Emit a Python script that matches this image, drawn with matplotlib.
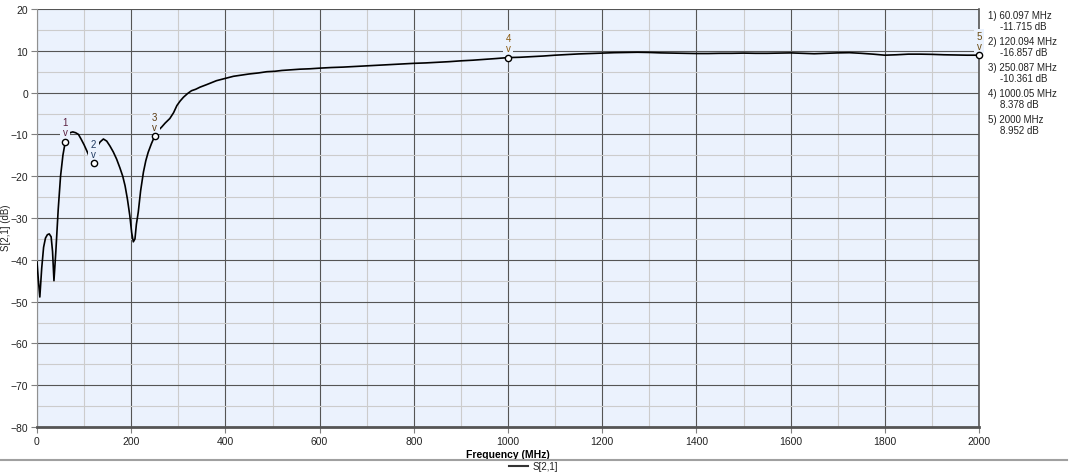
import numpy as np
import matplotlib
matplotlib.use("Agg")
import matplotlib.pyplot as plt
from matplotlib.lines import Line2D

plt.rcParams["font.family"] = ["Liberation Sans", "DejaVu Sans"]

# S21 trace (MHz, dB)
freq_mhz = [0, 3, 6, 10, 14, 18, 22, 26, 30, 33, 36, 40, 45, 50, 55, 60.097,
            65, 70, 76, 82, 88, 94, 100, 106, 112, 120.094, 126, 130, 134, 141,
            148, 155, 162, 169, 176, 182, 187, 192, 197, 201, 204.5, 208, 211,
            215, 220, 226, 231, 236, 243, 250.087, 258, 265, 272, 282, 290, 297,
            304, 311, 320, 328, 337, 346, 360, 381, 400, 417, 435, 450, 470, 488,
            505, 520, 540, 558, 580, 600, 625, 650, 675, 700, 725, 750, 775, 800,
            825, 850, 875, 900, 925, 950, 975, 1000.05, 1025, 1050, 1075, 1100,
            1125, 1150, 1175, 1200, 1225, 1250, 1275, 1300, 1325, 1350, 1375,
            1400, 1425, 1450, 1475, 1500, 1525, 1550, 1575, 1600, 1625, 1650,
            1675, 1700, 1725, 1750, 1775, 1800, 1825, 1850, 1875, 1900, 1925,
            1950, 1975, 2000]
s21_db = [-40.5, -45, -48.9, -42, -37, -34.8, -34.0, -33.8, -34.5, -38, -45,
          -38, -28, -20, -15, -11.715,
          -10.5, -9.6, -9.4, -9.6, -10.0, -11.2, -12.5, -14.0, -15.5, -16.857,
          -14.5, -12.5, -11.8, -11.1,
          -11.6, -12.8, -14.2, -15.9, -18, -20, -22.3, -25.5, -29.4, -33.5,
          -35.7, -35.0, -31.5,
          -28.6, -23.5, -19, -16.3, -14.3, -12.2, -10.361, -9.0, -8.2, -7.3,
          -6.2, -4.8, -3.1,
          -2.0, -1.1, -0.2, 0.45, 0.8, 1.3, 1.9, 2.85, 3.4, 3.9, 4.2, 4.45,
          4.7, 5.0,
          5.1, 5.3, 5.45, 5.6, 5.7, 5.85, 6.0, 6.1, 6.25, 6.4, 6.55, 6.7, 6.85,
          7.0,
          7.1, 7.25, 7.4, 7.6, 7.75, 7.95, 8.15, 8.378, 8.45, 8.6, 8.75, 8.95,
          9.1, 9.25, 9.35, 9.45, 9.55, 9.6, 9.65, 9.6, 9.5, 9.45, 9.4,
          9.35, 9.35, 9.4, 9.4, 9.45, 9.4, 9.4, 9.45, 9.5, 9.4, 9.3,
          9.4, 9.5, 9.55, 9.4, 9.2, 8.95, 9.05, 9.2, 9.2, 9.15, 9.05,
          9.0, 8.95, 8.952]

# markers
mk_freq = [60.097, 120.094, 250.087, 1000.05, 2000]
mk_db = [-11.715, -16.857, -10.361, 8.378, 8.952]
mk_freq_txt = ["60.097 MHz", "120.094 MHz", "250.087 MHz", "1000.05 MHz", "2000 MHz"]
mk_db_txt = ["-11.715 dB", "-16.857 dB", "-10.361 dB", "8.378 dB", "8.952 dB"]
mk_colors = ["#5a2040", "#203a60", "#5a3a10", "#8a5a10", "#6a4a10"]

W, H = 1076, 477
fig = plt.figure(figsize=(W / 100, H / 100), dpi=100)
ax = fig.add_axes([37 / W, 1 - 428 / H, (979 - 37) / W, (428 - 10) / H])
bg = "#ebf2fd"
ax.set_facecolor(bg)

ax.plot(freq_mhz, s21_db, color="black", lw=1.2, zorder=3)

for i, (f, d) in enumerate(zip(mk_freq, mk_db)):
    ax.annotate(f"{i + 1}\nv", (f, d), xytext=(0, 3), textcoords="offset points",
                ha="center", va="bottom", fontsize=7, color=mk_colors[i],
                linespacing=1.0, zorder=4,
                bbox=dict(boxstyle="square,pad=0.25", fc=bg, ec="none"))
ax.plot(mk_freq, mk_db, "o", ms=4.5, mfc="white", mec="black", mew=1.0,
        zorder=5, clip_on=False)

ax.set_xlim(0, 2000)
ax.set_ylim(-80, 20)
ax.set_xticks(np.arange(0, 2001, 200))
ax.set_xticks(np.arange(100, 2000, 200), minor=True)
ax.set_yticks(np.arange(-80, 21, 10))
ax.set_yticks(np.arange(-75, 20, 10), minor=True)
ax.grid(which="major", color="#555555", lw=0.8, zorder=1)
ax.grid(which="minor", color="#cccccc", lw=0.8, zorder=1)
ax.set_axisbelow(True)
ax.tick_params(which="major", length=4, color="#808080", labelsize=7.5,
               labelcolor="#222222", pad=2.5)
ax.tick_params(which="minor", length=0)

ax.spines["top"].set_visible(False)
ax.spines["left"].set_color("#909090")
ax.spines["right"].set_color("#555555")
ax.spines["bottom"].set_color("#555555")
ax.spines["bottom"].set_linewidth(2)
ax.spines["right"].set_linewidth(1.2)

ax.set_xlabel("Frequency (MHz)", fontsize=7.5, fontweight="bold", labelpad=2)
fig.text(6 / W, 1 - 228 / H, "S[2,1] (dB)", fontsize=7, color="#222222",
         rotation=90, ha="center", va="center")

# marker readout on the right
for i in range(len(mk_freq)):
    y = 1 - (16 + 26 * i) / H
    fig.text(988 / W, y, f"{i + 1}) {mk_freq_txt[i]}", fontsize=7,
             color="#222222", va="center")
    fig.text(1000 / W, y - 11 / H, mk_db_txt[i], fontsize=7,
             color="#222222", va="center")

# separator and legend
fig.add_artist(Line2D([0, 1067 / W], [1 - 461 / H] * 2, color="#a0a0a0", lw=1.5))
fig.add_artist(Line2D([509 / W, 528 / W], [1 - 467 / H] * 2, color="#333333", lw=1.5))
fig.text(533 / W, 1 - 467 / H, "S[2,1]", fontsize=7, color="#222222", va="center")

fig.savefig("out.png", dpi=100)
